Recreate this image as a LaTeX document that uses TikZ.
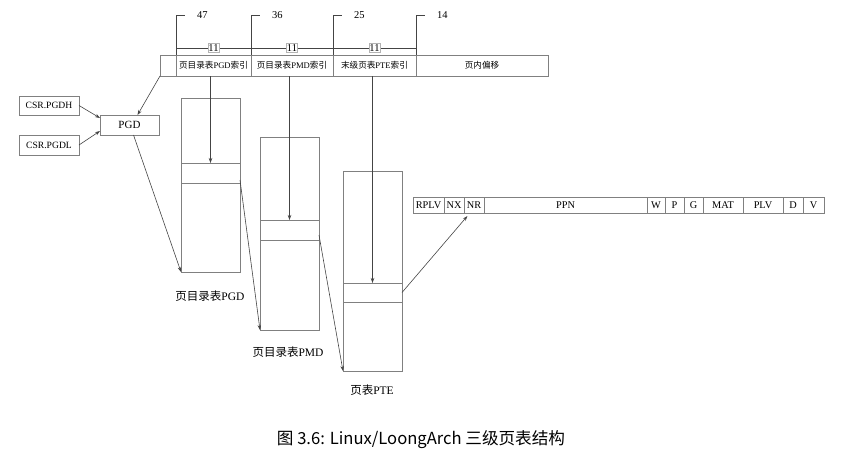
\documentclass[tikz,border=0pt]{standalone}
\usepackage{fontspec}
\setmainfont{Liberation Serif}
\newfontfamily\cjk{Noto Sans CJK SC}
\usetikzlibrary{arrows.meta,calc}
\definecolor{boxgray}{HTML}{808080}
\definecolor{linegray}{HTML}{444444}
\newcommand{\zh}[1]{{\cjk #1}}
\begin{document}
\begin{tikzpicture}[x=1pt,y=-1pt,
  cell/.style={draw=boxgray, line width=0.8pt, anchor=north west, inner sep=0pt, outer sep=0pt},
  fieldtext/.style={font=\fontsize{8.6}{9}\selectfont},
  bittext/.style={font=\fontsize{10.5}{11}\selectfont, anchor=west, inner sep=0pt},
  widthbox/.style={draw=boxgray!60, fill=white, line width=0.5pt, inner xsep=0.3pt, inner ysep=1.2pt,
                   font=\fontsize{10.5}{11}\selectfont},
  pteword/.style={cell, minimum height=16, font=\fontsize{10.3}{11}\selectfont},
  tablabel/.style={font=\fontsize{11.5}{12}\selectfont},
  arr/.style={draw=linegray, line width=0.6pt, -{Stealth[length=5pt,width=3.5pt]}},
  tick/.style={draw=linegray, line width=0.6pt}]
\useasboundingbox (0,0) rectangle (862,464);

% virtual address split into fields
\node[cell, minimum width=16, minimum height=21] (b0) at (160,55) {};
\node[cell, minimum width=75, minimum height=21, fieldtext] (f1) at (176,55) {\zh{页目录表}PGD\zh{索引}};
\node[cell, minimum width=82, minimum height=21, fieldtext] (f2) at (251,55) {\zh{页目录表}PMD\zh{索引}};
\node[cell, minimum width=83, minimum height=21, fieldtext] (f3) at (333,55) {\zh{末级页表}PTE\zh{索引}};
\node[cell, minimum width=132, minimum height=21, fieldtext] (f4) at (416,55) {\zh{页内偏移}};

% bit positions
\foreach \n/\xx/\bit in {t1/176/47, t2/251/36, t3/333/25, t4/416/14} {
  \coordinate (\n) at (\xx,15);
  \draw[tick] (\xx,55) -- (\n) -- ++(9,0);
  \node[bittext] at ($(\n)+(21,0)$) {\bit};
}
% field widths
\coordinate (w1) at (176,48);
\coordinate (w2) at (251,48);
\coordinate (w3) at (333,48);
\coordinate (w4) at (416,48);
\draw[tick] (w1) -- (w4);
\node[widthbox] at ($(w1)!0.5!(w2)$) {11};
\node[widthbox] at ($(w2)!0.5!(w3)$) {11};
\node[widthbox] at ($(w3)!0.5!(w4)$) {11};

% page directory base registers
\node[cell, minimum width=60, minimum height=19, font=\fontsize{9.6}{10}\selectfont] (pgdh) at (19,96) {CSR.PGDH};
\node[cell, minimum width=60, minimum height=20, font=\fontsize{9.6}{10}\selectfont] (pgdl) at (19,135) {CSR.PGDL};
\node[cell, minimum width=59, minimum height=20, font=\fontsize{11}{12}\selectfont] (pgd) at (100,115) {PGD};

% three table levels
\node[cell, minimum width=59, minimum height=174] (tab1) at (181,98) {};
\node[cell, minimum width=59, minimum height=20] (e1) at (181,163) {};
\node[cell, minimum width=59, minimum height=193] (tab2) at (260,137) {};
\node[cell, minimum width=59, minimum height=20] (e2) at (260,220) {};
\node[cell, minimum width=59, minimum height=200] (tab3) at (343,171) {};
\node[cell, minimum width=59, minimum height=19] (e3) at (343,283) {};

\node[tablabel] (l1) at (210,296) {\zh{页目录表}PGD};
\node[tablabel] (l2) at (288,352) {\zh{页目录表}PMD};
\node[tablabel] (l3) at (372,390) {\zh{页表}PTE};

% page table entry layout
\node[pteword, minimum width=31] (rplv) at (413,197) {RPLV};
\node[pteword, minimum width=20] (nx) at (444,197) {NX};
\node[pteword, minimum width=20] (nr) at (464,197) {NR};
\node[pteword, minimum width=163] (ppn) at (484,197) {PPN};
\node[pteword, minimum width=18] (w) at (647,197) {W};
\node[pteword, minimum width=19] (p) at (665,197) {P};
\node[pteword, minimum width=19] (g) at (684,197) {G};
\node[pteword, minimum width=40] (mat) at (703,197) {MAT};
\node[pteword, minimum width=40] (plv) at (743,197) {PLV};
\node[pteword, minimum width=20] (d) at (783,197) {D};
\node[pteword, minimum width=21] (v) at (803,197) {V};

% connectors
\draw[arr] (pgdh.east) -- ($(pgd.west)+(0,-7)$);
\draw[arr] (pgdl.east) -- ($(pgd.west)+(0,6)$);
\draw[arr] (b0.south west) -- ($(pgd.north)+(8,0)$);
\draw[arr] ($(pgd.south)+(4,0)$) -- (tab1.south west);
\draw[arr] (e1.north |- f1.south) -- (e1.north);
\draw[arr] (e2.north |- f2.south) -- (e2.north);
\draw[arr] (e3.north |- f3.south) -- (e3.north);
\draw[arr] ($(e1.east)+(0,7)$) -- (tab2.south west);
\draw[arr] ($(e2.east)+(0,5)$) -- (tab3.south west);
\draw[arr, shorten >=4pt] (e3.east) -- ($(nr.south)+(-4,0)$);

% caption
\node[font=\cjk\fontsize{16.6}{18}\selectfont] (cap) at (421,440) {图 3.6: Linux/LoongArch 三级页表结构};
\end{tikzpicture}
\end{document}
